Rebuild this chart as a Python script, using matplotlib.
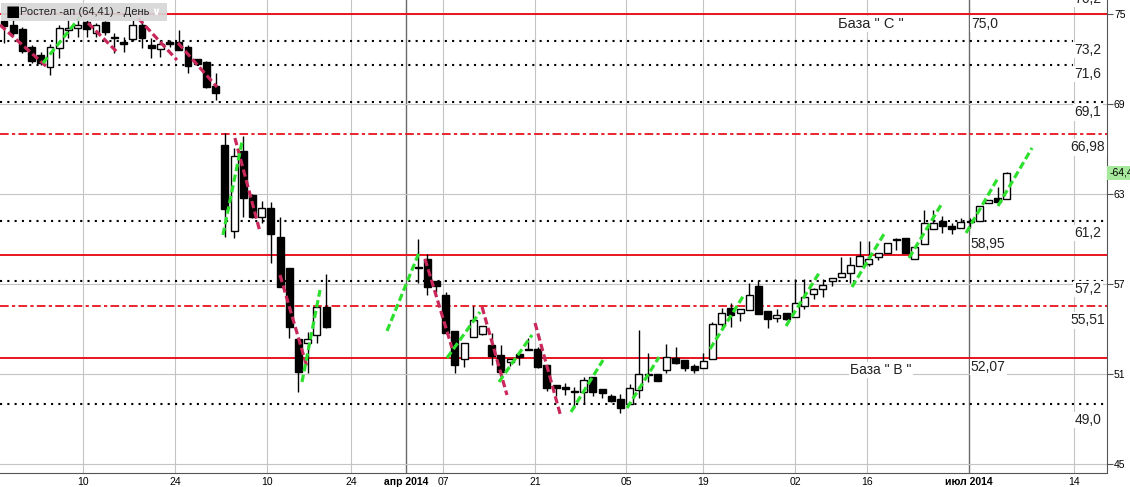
import numpy as np
import matplotlib.pyplot as plt
from matplotlib.patches import Rectangle
from matplotlib.transforms import blended_transform_factory

plt.rcParams["font.family"] = ["Liberation Sans", "DejaVu Sans"]

# ---------------- data ----------------
# trading-day index of each candle (gap = no trades at end of March)
idx = list(range(0, 36)) + list(range(45, 110))

opens = [74.53, 74.27, 74.0, 72.8, 72.27, 71.47, 72.73, 73.93, 74.07, 74.47,
         73.73, 74.47, 73.47, 73.13, 73.33, 74.27, 72.93, 72.67, 73.13, 73.13,
         72.8, 72.0, 71.8, 70.2, 66.27, 60.53, 65.87, 62.93, 61.47, 62.07,
         60.13, 58.07, 53.33, 53.07, 53.6, 55.47,
         58.07, 58.67, 57.2, 56.27, 53.87, 52.0, 53.47, 53.67, 52.93, 52.27,
         51.8, 52.33, 52.67, 52.67, 51.6, 50.27, 50.13, 49.8, 49.8, 50.8,
         50.0, 49.53, 49.33, 49.0, 49.93, 50.93, 51.0, 51.27, 52.07, 51.93,
         51.53, 51.4, 52.0, 54.33, 55.4, 55.07, 55.27, 56.87, 55.2, 54.73,
         55.07, 54.8, 55.53, 56.33, 56.67, 57.2, 57.47, 57.73, 58.2, 58.33,
         58.8, 59.07, 59.93, 60.07, 58.67, 59.67, 60.67, 61.2, 60.87, 60.73,
         61.13, 61.2, 62.4, 62.73, 62.67]
highs = [74.6, 74.6, 74.13, 72.93, 72.47, 73.0, 74.27, 74.6, 74.8, 74.6,
         74.4, 74.53, 73.73, 73.47, 74.6, 74.6, 73.4, 73.27, 73.27, 73.93,
         72.93, 72.0, 71.87, 71.07, 67.07, 66.07, 66.87, 63.0, 62.53, 62.47,
         61.47, 58.07, 53.33, 53.8, 55.47, 57.67,
         60.0, 59.0, 57.2, 56.47, 53.87, 53.07, 55.53, 54.2, 53.73, 52.93,
         52.0, 52.33, 53.4, 52.8, 51.6, 50.27, 50.4, 50.13, 50.8, 50.8,
         50.0, 49.67, 49.67, 50.33, 53.93, 52.4, 51.0, 53.0, 52.8, 51.93,
         51.67, 52.4, 54.47, 55.4, 55.73, 55.33, 57.07, 57.27, 55.2, 55.33,
         55.07, 57.33, 57.33, 56.73, 57.33, 57.4, 58.8, 58.8, 59.87, 59.87,
         59.07, 59.73, 60.07, 60.07, 59.47, 61.93, 61.93, 61.53, 61.07, 61.4,
         61.4, 62.2, 62.6, 63.47, 64.47]
lows = [73.07, 73.6, 72.4, 71.73, 71.6, 70.93, 72.07, 73.4, 73.47, 73.47,
        73.47, 73.6, 72.4, 72.47, 73.2, 72.73, 72.07, 72.13, 72.8, 72.6,
        71.07, 71.6, 70.07, 69.27, 60.13, 60.07, 61.47, 61.4, 61.07, 58.4,
        56.8, 53.4, 49.8, 51.07, 53.07, 54.07,
        57.07, 56.27, 56.47, 53.73, 51.07, 51.47, 53.47, 53.6, 51.6, 51.13,
        51.53, 51.6, 52.6, 51.4, 49.87, 49.53, 49.6, 48.73, 49.07, 49.53,
        49.4, 49.13, 48.4, 49.0, 49.4, 50.47, 50.53, 51.07, 51.67, 51.2,
        51.07, 51.4, 52.0, 54.13, 54.13, 54.53, 55.27, 55.0, 54.07, 54.47,
        54.6, 54.8, 55.33, 56.0, 56.13, 56.87, 57.47, 57.07, 58.2, 58.2,
        58.6, 59.07, 59.27, 59.07, 58.67, 59.67, 60.67, 60.4, 60.33, 60.73,
        60.73, 61.2, 62.4, 62.47, 62.67]
closes = [74.2, 73.73, 72.53, 71.87, 71.73, 72.8, 74.07, 74.07, 74.27, 74.0,
          74.27, 73.8, 73.4, 73.0, 74.27, 73.4, 72.73, 73.0, 73.0, 72.6,
          71.53, 71.67, 70.13, 69.73, 62.0, 65.53, 62.73, 61.47, 62.07, 60.33,
          56.8, 54.13, 51.13, 53.33, 55.47, 54.13,
          58.1, 56.8, 56.87, 53.73, 51.6, 53.07, 54.6, 54.2, 52.2, 51.13,
          52.0, 52.13, 52.6, 51.47, 50.07, 50.07, 50.0, 49.87, 50.6, 49.8,
          49.73, 49.2, 48.73, 50.07, 51.0, 51.0, 50.53, 52.13, 51.73, 51.4,
          51.27, 51.87, 54.33, 55.07, 54.93, 55.33, 56.27, 55.0, 54.67, 54.93,
          54.67, 55.73, 56.13, 56.67, 56.93, 57.4, 57.73, 58.27, 58.87, 58.67,
          59.07, 59.73, 60.0, 59.07, 59.47, 61.07, 61.07, 60.87, 60.67, 61.13,
          61.2, 62.2, 62.6, 62.47, 64.41]

# trend segments (day index, price)
down_lines = [((-0.43, 74.27), (4.67, 71.47)), ((9.13, 74.4), (12.28, 72.47)),
              ((14.57, 74.73), (18.8, 71.93)), ((18.91, 73.07), (23.15, 70.13)),
              ((25.1, 66.73), (27.83, 60.47)), ((30.0, 57.6), (32.93, 51.47)),
              ((45.76, 58.67), (48.7, 52.73)), ((51.96, 55.47), (54.67, 49.6)),
              ((57.72, 54.4), (60.54, 48.13))]
up_lines = [((4.24, 71.73), (8.26, 74.8)), ((23.8, 60.27), (25.87, 66.47)),
            ((32.39, 50.47), (34.35, 56.6)), ((41.63, 53.87), (45.1, 59.07)),
            ((48.15, 52.07), (51.74, 55.13)), ((53.8, 50.47), (57.39, 53.6)),
            ((61.63, 48.47), (65.11, 51.93)), ((67.72, 48.73), (71.2, 52.13)),
            ((76.74, 52.67), (80.43, 56.27)), ((85.0, 54.2), (88.59, 57.73)),
            ((92.17, 56.8), (95.65, 60.33)), ((98.37, 58.73), (101.85, 62.27)),
            ((104.57, 60.4), (108.04, 64.07)), ((108.04, 62.2), (111.74, 66.07))]

solid_levels = [75.0, 58.95, 52.07]
dashdot_levels = [66.98, 55.51]
dotted_levels = [73.2, 71.6, 69.1, 61.2, 57.2, 49.0]
dotted_short = [73.2, 71.6]

right_labels = ["76,2", "73,2", "71,6", "69,1", "66,98", "61,2", "57,2", "55,51", "49,0"]
right_label_y = [76.2, 73.2, 71.6, 69.1, 66.98, 61.2, 57.2, 55.51, 49.0]
right_label_dy = [-3, -9, -9, -10, -13, -12, -8, -14, -16]

xtick_pos = [8.59, 18.59, 28.59, 37.72, 43.70, 47.72, 57.72, 67.61, 75.98,
             85.98, 93.80, 104.89, 116.3]
xtick_lab = ["10", "24", "10", "24", "апр 2014", "07", "21", "05", "19",
             "02", "16", "июл 2014", "14"]
month_ticks = [43.70, 104.89]
ytick_pos = [45, 51, 57, 63, 69, 75]

# ---------------- figure ----------------
fig = plt.figure(figsize=(11.3, 4.87), dpi=100)
ax = fig.add_axes([0, 14 / 487, 1107 / 1130, 473 / 487])
ax.set_xlim(-0.435, 119.89)
ax.set_ylim(44.4, 75.933)

for x in xtick_pos:
    if x in month_ticks:
        ax.axvline(x, color="#6a6a6a", lw=1, zorder=0.5)
    else:
        ax.axvline(x, color="#c4c4c4", lw=0.8, zorder=0.5)
for y in ytick_pos:
    ax.axhline(y, color="#c4c4c4", lw=0.8, zorder=0.5)

# levels
for y in dotted_levels:
    xmax = 1073 / 1107 if y in dotted_short else 1
    ax.axhline(y, xmax=xmax, color="black", lw=1.5,
               linestyle=(0, (1, 2.5)), dash_capstyle="butt", zorder=1)
for y in dashdot_levels:
    ax.axhline(y, color="#e8141e", lw=1.3,
               linestyle=(0, (4.8, 1.8, 1.8, 1.8)), zorder=1)
for y in solid_levels:
    ax.axhline(y, color="#e8141e", lw=1.4, zorder=1)

# candles
idx_a = np.array(idx)
o = np.array(opens)
h = np.array(highs)
l = np.array(lows)
c = np.array(closes)
ax.vlines(idx_a, l, h, color="black", lw=1, zorder=2)
bottom = np.minimum(o, c)
height = np.abs(c - o)
face = np.where(c >= o, "white", "black")
ax.bar(idx_a, height, 0.76, bottom=bottom, color=face, edgecolor="black",
       linewidth=1, zorder=3)

# trend lines
for (x0, y0), (x1, y1) in down_lines:
    ax.plot([x0, x1], [y0, y1], color="#c8285a", lw=2.3,
            linestyle=(0, (2.3, 1.1)), zorder=4)
for (x0, y0), (x1, y1) in up_lines:
    ax.plot([x0, x1], [y0, y1], color="#2ee02e", lw=2.3,
            linestyle=(0, (2.3, 1.1)), zorder=4)

# level annotations
box = dict(facecolor="white", edgecolor="none", pad=1)
tr = blended_transform_factory(ax.transAxes, ax.transData)
for txt, y, dy in zip(right_labels, right_label_y, right_label_dy):
    ax.annotate(txt, xy=(1088 / 1107, y), xycoords=tr, xytext=(0, dy),
                textcoords="offset pixels", ha="center", va="center",
                fontsize=10, color="#222222", bbox=box, zorder=5,
                annotation_clip=False)

ax.annotate("75,0", xy=(105.1, 75.0), xytext=(0, -10), textcoords="offset pixels",
            ha="left", va="center", fontsize=10, color="#222222", bbox=box, zorder=5)
ax.annotate("58,95", xy=(105.1, 58.95), xytext=(0, 11), textcoords="offset pixels",
            ha="left", va="center", fontsize=10, color="#222222", bbox=box, zorder=5)
ax.annotate("52,07", xy=(105.1, 52.07), xytext=(0, -9), textcoords="offset pixels",
            ha="left", va="center", fontsize=10, color="#222222", bbox=box, zorder=5)
ax.annotate("База \" C \"", xy=(90.6, 75.0), xytext=(0, -10), textcoords="offset pixels",
            ha="left", va="center", fontsize=10.5, color="#222222", bbox=box, zorder=5)
ax.annotate("База \" B \"", xy=(92.0, 52.07), xytext=(0, -12), textcoords="offset pixels",
            ha="left", va="center", fontsize=10, color="#222222", bbox=box, zorder=5)

# axes styling
for s in ["left", "top"]:
    ax.spines[s].set_visible(False)
ax.spines["right"].set_color("#555555")
ax.spines["bottom"].set_color("#555555")
ax.yaxis.tick_right()
ax.set_yticks(ytick_pos)
ax.tick_params(axis="y", length=4, pad=1, labelsize=7.5, color="#555555")
ax.set_xticks(xtick_pos)
ax.set_xticklabels(xtick_lab)
ax.tick_params(axis="x", length=0, pad=3, labelsize=7.5)
for t in ax.get_xticklabels():
    if "2014" in t.get_text():
        t.set_fontweight("bold")

# price tag
ax.text(1.002, closes[-1], "-64,41", transform=tr, ha="left", va="center",
        fontsize=7.5, bbox=dict(facecolor="#a6e89c", edgecolor="none", pad=1.5),
        clip_on=False)

# title box
fig.patches.append(Rectangle((1 / 1130, 1 - 21 / 487), 166 / 1130, 18 / 487,
                             transform=fig.transFigure, facecolor="#d6d6d6",
                             edgecolor="none", alpha=0.92, zorder=6))
fig.text(6 / 1130, 1 - 12 / 487, "■", ha="left", va="center", fontsize=11,
         family="DejaVu Sans", color="black", zorder=7)
fig.text(20 / 1130, 1 - 12 / 487, "Ростел -ап (64,41) - День", ha="left",
         va="center", fontsize=8, color="#222222", zorder=7)
fig.text(156 / 1130, 1 - 12 / 487, "∨", ha="center", va="center",
         fontsize=8, color="white", fontweight="bold", family="DejaVu Sans",
         zorder=7)

fig.savefig("out.png", dpi=100)
